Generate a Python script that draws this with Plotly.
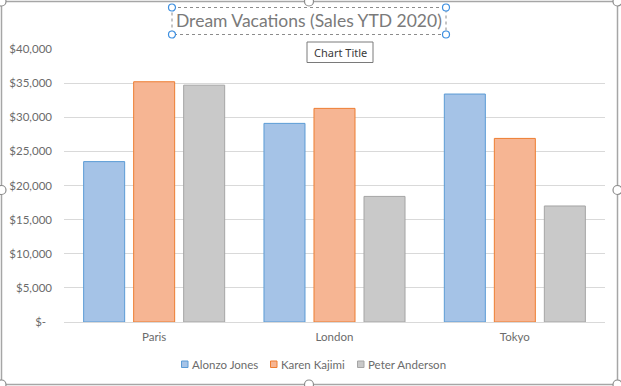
import plotly.graph_objects as go

# ---- data ----
cities = ["Paris", "London", "Tokyo"]
sellers = ["Alonzo Jones", "Karen Kajimi", "Peter Anderson"]
alonzo_sales = [23500, 29100, 33400]
karen_sales = [35200, 31300, 26900]
peter_sales = [34700, 18400, 17000]
y_tick_values = [0, 5000, 10000, 15000, 20000, 25000, 30000, 35000, 40000]
y_tick_labels = ["$-\u00a0\u00a0", "$5,000", "$10,000", "$15,000", "$20,000",
                 "$25,000", "$30,000", "$35,000", "$40,000"]
chart_title = "Dream Vacations (Sales YTD 2020)"
hover_tip = "Chart Title"

# ---- styling ----
W, H = 621, 386
ML, MR, MT, MB = 64, 16, 49, 64
fills = ["#a5c3e7", "#f6b593", "#c9c9c9"]
edges = ["#5b9bd5", "#ed7d31", "#a5a5a5"]
FONT = "Lato"
TXT = "#6b6b6b"

pw, ph = W - ML - MR, H - MT - MB


def px_x(x):
    return (x - ML) / pw


def px_y(y):
    return (H - MB - y) / ph


fig = go.Figure()
for name, vals, fc, ec in zip(sellers, [alonzo_sales, karen_sales, peter_sales], fills, edges):
    fig.add_trace(go.Bar(
        x=cities, y=vals, name=name,
        marker=dict(color=fc, line=dict(color=ec, width=1)),
        showlegend=False,
    ))

shapes = []
annotations = []

# outer chart frame with resize handles
shapes.append(dict(type="rect", xref="paper", yref="paper",
                   x0=px_x(1.5), x1=px_x(617.5), y0=px_y(1.5), y1=px_y(384.5),
                   line=dict(color="#a6a6a6", width=1.5), layer="above"))
for hx, hy in [(1.5, 1.5), (309, 1.5), (617.5, 1.5), (1.5, 190), (617.5, 190),
               (1.5, 384.5), (309, 384.5), (617.5, 384.5)]:
    r = 4.5
    shapes.append(dict(type="circle", xref="paper", yref="paper",
                       x0=px_x(hx - r), x1=px_x(hx + r), y0=px_y(hy - r), y1=px_y(hy + r),
                       fillcolor="white", line=dict(color="#8c8c8c", width=1.2), layer="above"))

# title selection box
shapes.append(dict(type="rect", xref="paper", yref="paper",
                   x0=px_x(172), x1=px_x(446), y0=px_y(7.5), y1=px_y(34.5),
                   line=dict(color="#8c8c8c", width=1, dash="dot"), layer="above"))
for hx, hy in [(172, 7.5), (446, 7.5), (172, 34.5), (446, 34.5)]:
    r = 3.5
    shapes.append(dict(type="circle", xref="paper", yref="paper",
                       x0=px_x(hx - r), x1=px_x(hx + r), y0=px_y(hy - r), y1=px_y(hy + r),
                       fillcolor="white", line=dict(color="#3d8fe0", width=1.2), layer="above"))

# tooltip box
shapes.append(dict(type="rect", xref="paper", yref="paper",
                   x0=px_x(307), x1=px_x(373), y0=px_y(42), y1=px_y(62.5),
                   fillcolor="white", line=dict(color="#7a7a7a", width=1), layer="above"))
annotations.append(dict(text=hover_tip, xref="paper", yref="paper",
                        x=px_x(340), y=px_y(52.5), xanchor="center", yanchor="middle",
                        showarrow=False, font=dict(family="Noto Sans", size=11, color="#3a3a3a")))

# title
annotations.append(dict(text=chart_title, xref="paper", yref="paper",
                        x=px_x(308.5), y=px_y(21), xanchor="center", yanchor="middle",
                        showarrow=False, font=dict(family=FONT, size=17.5, color="#7a7a7a")))

# legend
sw_left = [181.5, 270.5, 357.5]
for name, fc, ec, lx in zip(sellers, fills, edges, sw_left):
    shapes.append(dict(type="rect", xref="paper", yref="paper",
                       x0=px_x(lx), x1=px_x(lx + 6.5), y0=px_y(361), y1=px_y(367.5),
                       fillcolor=fc, line=dict(color=ec, width=1), layer="above"))
    annotations.append(dict(text=name, xref="paper", yref="paper",
                            x=px_x(lx + 8.5), y=px_y(364.5), xanchor="left", yanchor="middle",
                            showarrow=False, font=dict(family=FONT, size=11.5, color=TXT)))

fig.update_layout(
    width=W, height=H,
    margin=dict(l=ML, r=MR, t=MT, b=MB, pad=0, autoexpand=False),
    paper_bgcolor="white", plot_bgcolor="white",
    barmode="group", bargap=0.168, bargroupgap=0.18,
    font=dict(family=FONT, size=11.5, color=TXT),
    shapes=shapes, annotations=annotations,
    xaxis=dict(showgrid=False, showline=True, linecolor="#d9d9d9", linewidth=1,
               automargin=False, ticks="", ticklabelstandoff=4,
               tickfont=dict(size=11.5, color=TXT)),
    yaxis=dict(range=[0, 40000], tickvals=y_tick_values, ticktext=y_tick_labels,
               showgrid=True, gridcolor="#d9d9d9", gridwidth=1, zeroline=False,
               automargin=False, showline=False, ticks="", ticklabelstandoff=11,
               tickfont=dict(size=11.5, color=TXT)),
)

fig.write_html("out.html")
